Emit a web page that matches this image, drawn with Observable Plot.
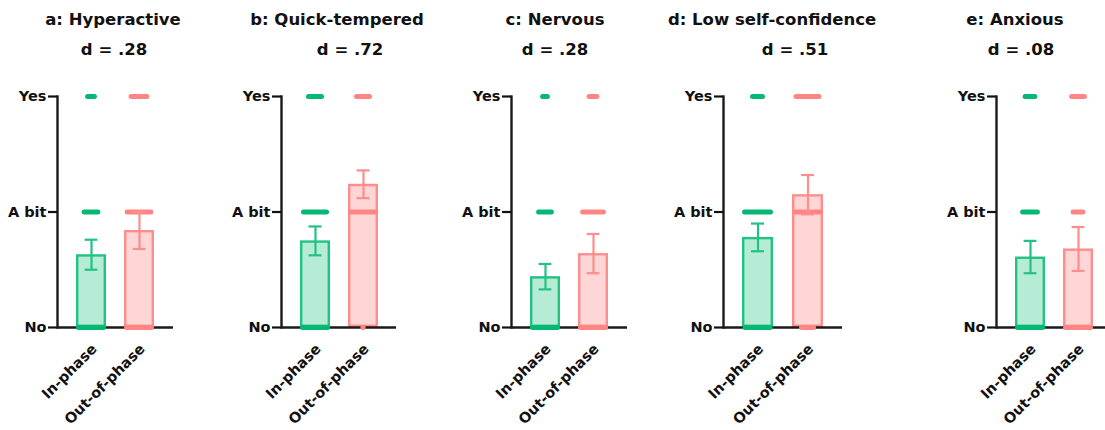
<!DOCTYPE html>
<html><head><meta charset="utf-8">
<script src="https://cdn.jsdelivr.net/npm/d3@7"></script>
<script src="https://cdn.jsdelivr.net/npm/@observablehq/plot@0.6"></script>
<style>
body{margin:0;background:#fff;}
#wrap{position:relative;width:1105px;height:430px;overflow:hidden;background:#fff;font-family:"DejaVu Sans",sans-serif;}
.ttl{position:absolute;font-weight:bold;font-size:16.5px;line-height:16.5px;white-space:nowrap;transform:translateX(-50%);color:#111;}
.panel{position:absolute;top:0;}
.panel [aria-label="y-axis tick"]{stroke-width:2.2px;}
.panel [aria-label="y-axis line"], .panel [aria-label="frame"]{stroke-width:2.4px;stroke:#1a1a1a;}
</style>
</head><body><div id="wrap"></div>
<script>
// ---- data ----
const panelTitles = ["a: Hyperactive", "b: Quick-tempered", "c: Nervous", "d: Low self-confidence", "e: Anxious"];
const effectSizes = ["d = .28", "d = .72", "d = .28", "d = .51", "d = .08"];
const groups = ["In-phase", "Out-of-phase"];
const levels = ["No", "A bit", "Yes"];
const inPhaseMean  = [0.63, 0.75, 0.44, 0.78, 0.61];
const inPhaseSEM   = [0.13, 0.125, 0.11, 0.12, 0.14];
const outPhaseMean = [0.84, 1.24, 0.64, 1.15, 0.68];
const outPhaseSEM  = [0.16, 0.12, 0.17, 0.17, 0.19];
// estimated number of stacked points per answer level [No, A bit, Yes]
const inPhaseCounts  = [[40, 19, 12], [40, 28, 18], [40, 18, 10], [30, 34, 15], [40, 20, 15]];
const outPhaseCounts = [[40, 29, 21], [3, 40, 18], [40, 26, 13], [17, 40, 28], [40, 15, 18]];

// ---- layout / style ----
const axisX  = [57, 281, 511, 723, 996];
const rangeW = [116, 115, 116, 119, 116];
const titleCX = [113, 337, 555, 772, 1015];
const effCX   = [114, 350, 555, 795, 1021];
const ML = 60, MR = 30, MT = 96, MB = 103, H = 430, PAD = 0.38;
const barFill   = ["#b6ebd5", "#ffd6d6"];
const barStroke = ["#22c283", "#ff8d8d"];
const dotColor  = ["#05b873", "#ff8484"];
const rowThick = 5, capW = 13;

const wrap = document.getElementById("wrap");

panelTitles.forEach((t, i) => {
  const d1 = document.createElement("div");
  d1.className = "ttl"; d1.style.left = titleCX[i] + "px"; d1.style.top = "12px"; d1.textContent = t;
  const d2 = document.createElement("div");
  d2.className = "ttl"; d2.style.left = effCX[i] + "px"; d2.style.top = "42px"; d2.textContent = effectSizes[i];
  wrap.appendChild(d1); wrap.appendChild(d2);
});

for (let i = 0; i < panelTitles.length; i++) {
  const step = rangeW[i] / (2 + PAD);
  const bw = step * (1 - PAD);
  const bars = groups.map((g, gi) => ({
    group: g,
    mean: gi ? outPhaseMean[i] : inPhaseMean[i],
    sem: gi ? outPhaseSEM[i] : inPhaseSEM[i]
  }));
  const marks = [];
  groups.forEach((g, gi) => {
    const b = bars.filter(d => d.group === g);
    marks.push(Plot.barY(b, {x: "group", y: "mean", fill: barFill[gi], stroke: barStroke[gi], strokeWidth: 2.4, inset: 1.2}));
  });
  marks.push(Plot.ruleY([0], {stroke: "#1a1a1a", strokeWidth: 2.4}));
  groups.forEach((g, gi) => {
    const counts = gi ? outPhaseCounts[i] : inPhaseCounts[i];
    counts.forEach((n, li) => {
      const w = Math.min(bw, n);
      let ins = (bw - w) / 2 + rowThick / 2;
      if (ins > bw / 2 - 0.05) ins = bw / 2 - 0.05;
      marks.push(Plot.tickY([{group: g, level: li}], {
        x: "group", y: "level", stroke: dotColor[gi], strokeWidth: rowThick,
        strokeLinecap: "round", insetLeft: ins, insetRight: ins
      }));
    });
  });
  const capIns = (bw - capW) / 2;
  groups.forEach((g, gi) => {
    const b = bars.filter(d => d.group === g);
    marks.push(Plot.ruleX(b, {x: "group", y1: d => d.mean - d.sem, y2: d => d.mean + d.sem, stroke: barStroke[gi], strokeWidth: 2.2}));
    marks.push(Plot.tickY(b, {x: "group", y: d => d.mean + d.sem, stroke: barStroke[gi], strokeWidth: 2.2, insetLeft: capIns, insetRight: capIns}));
    marks.push(Plot.tickY(b, {x: "group", y: d => d.mean - d.sem, stroke: barStroke[gi], strokeWidth: 2.2, insetLeft: capIns, insetRight: capIns}));
  });
  marks.push(Plot.axisX({tickRotate: -45, tickSize: 0, tickPadding: 19, dx: 3, fontSize: 14.5, label: null, fill: "#111"}));

  const svg = Plot.plot({
    width: ML + rangeW[i] + MR,
    height: H,
    marginLeft: ML, marginRight: MR, marginTop: MT, marginBottom: MB,
    x: {domain: groups, padding: PAD, axis: null},
    y: {domain: [0, 2], ticks: [0, 1, 2], tickFormat: d => levels[d], tickSize: 9, tickPadding: 2, line: true, label: null},
    style: {background: "transparent", overflow: "visible", fontFamily: "DejaVu Sans, sans-serif", fontWeight: "bold", fontSize: "14.5px", color: "#111", maxWidth: "none"},
    marks
  });
  svg.classList.add("panel");
  svg.style.left = (axisX[i] - ML) + "px";
  wrap.appendChild(svg);
}
</script>
</body></html>
